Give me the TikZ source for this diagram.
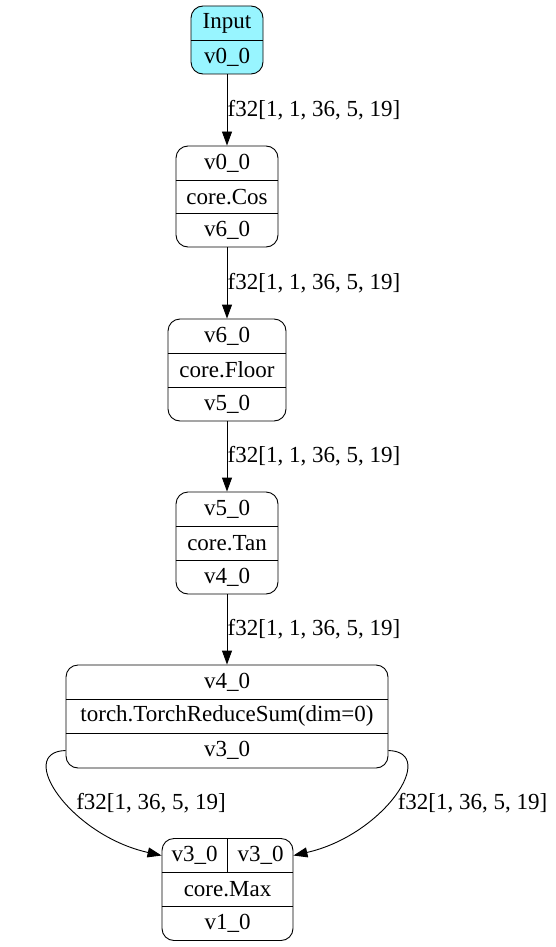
\documentclass[tikz,border=0pt]{standalone}
\usepackage{fontspec}
\newfontfamily\recfont{Liberation Serif}
\usetikzlibrary{arrows.meta}
\definecolor{inputcyan}{HTML}{98F5FF}
\tikzset{
  rec/.style={draw, rounded corners=12pt, line width=0.9pt, inner sep=0pt},
  txt/.style={font=\recfont\fontsize{23}{27}\selectfont, inner sep=0pt, anchor=center},
  lbl/.style={font=\recfont\fontsize{23}{27}\selectfont, inner sep=0pt},
  divider/.style={line width=0.9pt},
  edge/.style={-{Triangle[length=14pt,width=10pt]}, line width=0.9pt},
}
\begin{document}
\begin{tikzpicture}[x=1pt,y=-1pt]
\useasboundingbox (0,0) rectangle (555,947);

% Input
\node[rec, fill=inputcyan, minimum width=72, minimum height=68] (in) at (227,40) {};
\draw[divider] (in.west |- 0,40) -- (in.east |- 0,40);
\node[txt] (in-r1) at (227,23) {Input};
\node[txt] (in-r2) at (227,57) {v0\_0};

% Cos
\node[rec, minimum width=102, minimum height=101] (cos) at (227,196.5) {};
\draw[divider] (cos.west |- 0,180) -- (cos.east |- 0,180);
\draw[divider] (cos.west |- 0,213.5) -- (cos.east |- 0,213.5);
\node[txt] (cos-r1) at (227,163) {v0\_0};
\node[txt] (cos-r2) at (227,197) {core.Cos};
\node[txt] (cos-r3) at (227,230.5) {v6\_0};

% Floor
\node[rec, minimum width=118, minimum height=102] (flo) at (227,370) {};
\draw[divider] (flo.west |- 0,353) -- (flo.east |- 0,353);
\draw[divider] (flo.west |- 0,387) -- (flo.east |- 0,387);
\node[txt] (flo-r1) at (227,336) {v6\_0};
\node[txt] (flo-r2) at (227,370) {core.Floor};
\node[txt] (flo-r3) at (227,404) {v5\_0};

% Tan
\node[rec, minimum width=102, minimum height=102] (tan) at (227,543) {};
\draw[divider] (tan.west |- 0,526.5) -- (tan.east |- 0,526.5);
\draw[divider] (tan.west |- 0,560) -- (tan.east |- 0,560);
\node[txt] (tan-r1) at (227,509.5) {v5\_0};
\node[txt] (tan-r2) at (227,543) {core.Tan};
\node[txt] (tan-r3) at (227,577) {v4\_0};

% ReduceSum
\node[rec, minimum width=322, minimum height=103] (sum) at (227,716.5) {};
\draw[divider] (sum.west |- 0,699) -- (sum.east |- 0,699);
\draw[divider] (sum.west |- 0,733) -- (sum.east |- 0,733);
\node[txt] (sum-r1) at (227,682) {v4\_0};
\node[txt] (sum-r2) at (227,716) {torch.TorchReduceSum(dim=0)};
\node[txt] (sum-r3) at (227,750.5) {v3\_0};

% Max
\node[rec, minimum width=131, minimum height=102] (max) at (227.5,889.5) {};
\draw[divider] (max.west |- 0,872.5) -- (max.east |- 0,872.5);
\draw[divider] (max.west |- 0,906) -- (max.east |- 0,906);
\draw[divider] (227,838.5) -- (227,872.5);
\node[txt] (max-r1a) at (194.5,855.5) {v3\_0};
\node[txt] (max-r1b) at (260.5,855.5) {v3\_0};
\node[txt] (max-r2) at (227.5,889) {core.Max};
\node[txt] (max-r3) at (227.5,923) {v1\_0};

% edges
\draw[edge] (in) -- (cos);
\draw[edge] (cos) -- (flo);
\draw[edge] (flo) -- (tan);
\draw[edge] (tan) -- (sum);
\node[lbl, anchor=west] (l1) at (227.5,110) {f32[1, 1, 36, 5, 19]};
\node[lbl, anchor=west] (l2) at (227.5,283.5) {f32[1, 1, 36, 5, 19]};
\node[lbl, anchor=west] (l3) at (227.5,456.5) {f32[1, 1, 36, 5, 19]};
\node[lbl, anchor=west] (l4) at (227.5,629.5) {f32[1, 1, 36, 5, 19]};

\coordinate (sumL) at (sum.west |- sum-r3);
\coordinate (sumR) at (sum.east |- sum-r3);
\coordinate (maxL) at (max.west |- max-r1a);
\coordinate (maxR) at (max.east |- max-r1b);
\draw[edge] (sumL) .. controls (15,752) and (70,835) .. (maxL);
\draw[edge] (sumR) .. controls (439,752) and (384,835) .. (maxR);
\node[lbl] (l5) at (151,803) {f32[1, 36, 5, 19]};
\node[lbl] (l6) at (472.5,803) {f32[1, 36, 5, 19]};
\end{tikzpicture}
\end{document}
